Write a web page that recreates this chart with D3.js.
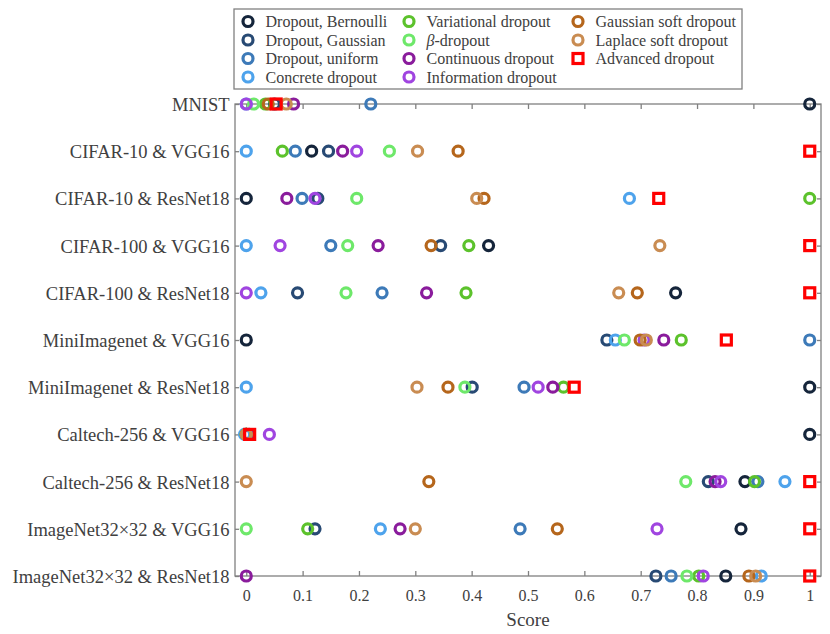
<!DOCTYPE html>
<html><head><meta charset="utf-8">
<script src="https://cdn.jsdelivr.net/npm/d3@7"></script>
<style>body{margin:0;background:#fff}</style>
</head><body>
<svg id="c" width="830" height="634"></svg>
<script>
const categories = ["MNIST","CIFAR-10 & VGG16","CIFAR-10 & ResNet18","CIFAR-100 & VGG16","CIFAR-100 & ResNet18","MiniImagenet & VGG16","MiniImagenet & ResNet18","Caltech-256 & VGG16","Caltech-256 & ResNet18","ImageNet32\u00d732 & VGG16","ImageNet32\u00d732 & ResNet18"];
const seriesNames = ["Dropout, Bernoulli","Dropout, Gaussian","Dropout, uniform","Concrete dropout","Variational dropout","\u03b2-dropout","Continuous dropout","Information dropout","Gaussian soft dropout","Laplace soft dropout","Advanced dropout"];
const seriesColors = ["#15253b","#284a74","#3d7ab8","#4ea3ec","#5cc22c","#6ee86a","#8a1c9c","#a045e0","#b5661c","#c98c52","#ff0000"];
// values per series, one per category
const bernoulli   = [1.0,0.116,0.0,0.430,0.762,0.0,1.0,1.0,0.885,0.878,0.851];
const gaussian    = [0.05,0.146,0.127,0.345,0.091,0.640,0.401,0.0,0.820,0.122,0.727];
const uniform     = [0.221,0.087,0.099,0.150,0.241,1.0,0.493,0.0,0.908,0.486,0.754];
const concrete    = [0.0,0.0,0.680,0.0,0.026,0.655,0.0,-0.003,0.956,0.238,0.914];
const variational = [0.034,0.064,1.0,0.395,0.390,0.772,0.563,0.0,0.902,0.109,0.803];
const betaDrop    = [0.013,0.254,0.196,0.180,0.177,0.671,0.388,0.0,0.780,0.0,0.782];
const continuous  = [0.084,0.171,0.072,0.234,0.320,0.741,0.544,0.005,0.832,0.273,0.0];
const information = [0.0,0.196,0.122,0.060,0.0,0.706,0.518,0.041,0.842,0.729,0.811];
const gaussSoft   = [0.039,0.376,0.422,0.328,0.694,0.699,0.358,0.0,0.324,0.552,0.892];
const laplaceSoft = [0.071,0.304,0.409,0.734,0.661,0.710,0.303,0.0,0.0,0.300,0.904];
const advanced    = [0.053,1.0,0.732,1.0,1.0,0.852,0.582,0.006,1.0,1.0,1.0];
const xTicks = [0,0.1,0.2,0.3,0.4,0.5,0.6,0.7,0.8,0.9,1];
const xTickLabels = ["0","0.1","0.2","0.3","0.4","0.5","0.6","0.7","0.8","0.9","1"];

const allValues = [bernoulli,gaussian,uniform,concrete,variational,betaDrop,continuous,information,gaussSoft,laplaceSoft,advanced];

const svg = d3.select("#c");
const L=235, R=821, T=104, B=576;
const x = d3.scaleLinear().domain([-0.02,1.02]).range([L,R]);
const y = d3.scalePoint().domain(categories).range([T,B]);
const axisCol="#808080", textCol="#404040", font="'Liberation Serif','Times New Roman',serif";

// frame
const g = svg.append("g");
g.append("rect").attr("x",L).attr("y",T).attr("width",R-L).attr("height",B-T)
 .attr("fill","none").attr("stroke",axisCol).attr("stroke-width",1.3);

// axes
const xb = g.append("g").attr("transform",`translate(0,${B})`)
  .call(d3.axisBottom(x).tickValues(xTicks).tickFormat((d,i)=>xTickLabels[i]).tickSizeInner(-5).tickSizeOuter(0).tickPadding(14));
const xt = g.append("g").attr("transform",`translate(0,${T})`)
  .call(d3.axisTop(x).tickValues(xTicks).tickFormat("").tickSizeInner(-5).tickSizeOuter(0));
const yl = g.append("g").attr("transform",`translate(${L},0)`)
  .call(d3.axisLeft(y).tickSizeInner(-4).tickSizeOuter(0).tickPadding(5.5));
const yr = g.append("g").attr("transform",`translate(${R},0)`)
  .call(d3.axisRight(y).tickFormat("").tickSizeInner(-4).tickSizeOuter(0));
[xb,xt,yl,yr].forEach(a=>{
  a.select(".domain").remove();
  a.selectAll("line").attr("stroke",axisCol).attr("stroke-width",1.3);
  a.selectAll("text").attr("fill",textCol).style("font-family",font).style("font-size","16px");
});
yl.selectAll("text").style("font-size","18.5px").attr("dy","0.35em");

g.append("text").attr("x",(L+R)/2).attr("y",626).attr("text-anchor","middle")
 .attr("fill",textCol).style("font-family",font).style("font-size","19px").text("Score");

// markers
function drawMarker(sel, i, cx, cy){
  if(i===10){
    sel.append("rect").attr("x",cx-5).attr("y",cy-5).attr("width",10).attr("height",10)
      .attr("fill","none").attr("stroke",seriesColors[i]).attr("stroke-width",3.2);
  } else {
    sel.append("circle").attr("cx",cx).attr("cy",cy).attr("r",5)
      .attr("fill","none").attr("stroke",seriesColors[i]).attr("stroke-width",3.2);
  }
}
const pts = svg.append("g");
allValues.forEach((vals,i)=>{
  vals.forEach((v,j)=>drawMarker(pts,i,x(v),y(categories[j])));
});

// legend
const lg = svg.append("g");
lg.append("rect").attr("x",234).attr("y",9).attr("width",508).attr("height",80)
  .attr("fill","#fff").attr("stroke",axisCol).attr("stroke-width",1.3);
const colX=[248,409,578], rowY=[21.5,40,58.5,77];
const layout=[[0,0],[0,1],[0,2],[0,3],[1,0],[1,1],[1,2],[1,3],[2,0],[2,1],[2,2]];
seriesNames.forEach((n,i)=>{
  const [c,r]=layout[i];
  drawMarker(lg,i,colX[c],rowY[r]);
  const t = lg.append("text").attr("x",colX[c]+17.5).attr("y",rowY[r]+5.5)
    .attr("fill",textCol).style("font-family",font).style("font-size","16px");
  if(i===5){
    t.append("tspan").style("font-style","italic").text("\u03b2");
    t.append("tspan").text("-dropout");
  } else t.text(n);
});
</script>
</body></html>
